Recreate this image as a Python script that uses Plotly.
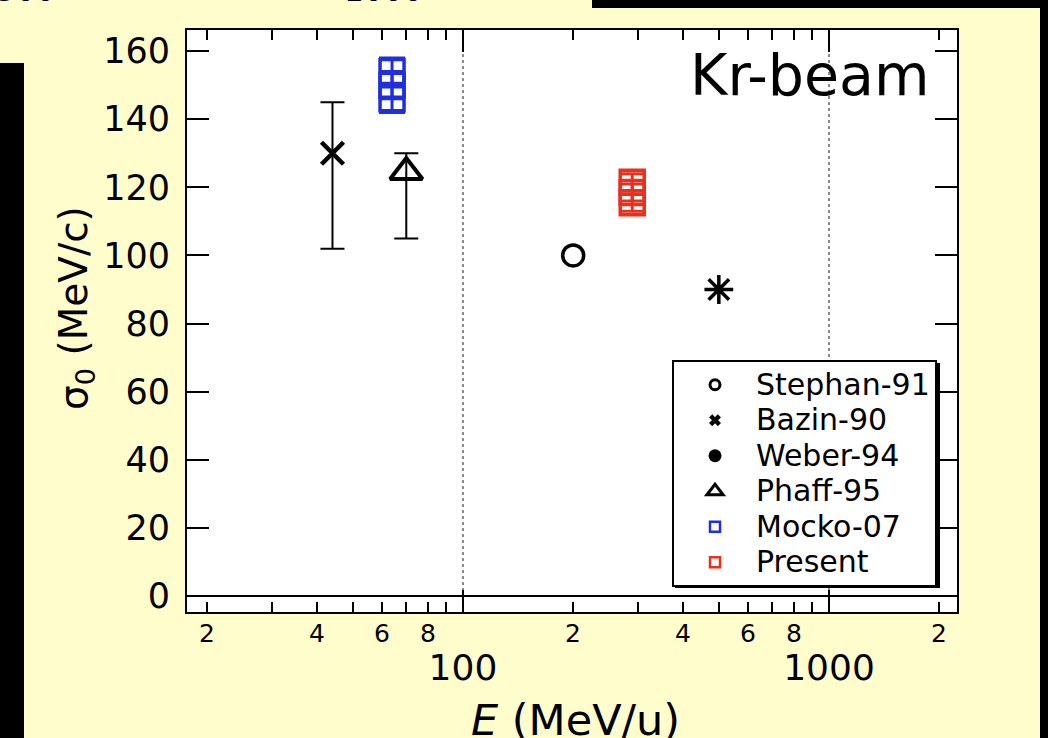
import math
import plotly.graph_objects as go

# ---------------- data ----------------
stephan_E = [200]
stephan_sigma = [100]

bazin_E = [44]
bazin_sigma = [130]
bazin_err_plus = [15]
bazin_err_minus = [28]

weber_E = [500]
weber_sigma = [90]

phaff_E = [70]
phaff_sigma = [124.5]
phaff_err_plus = [5.5]
phaff_err_minus = [19.5]

mocko_E = [64, 64, 64]
mocko_sigma = [154, 150, 146]
mocko_err = [4, 4, 4]

present_E = [290, 290, 290]
present_sigma = [121.5, 118.5, 115.5]
present_err = [2.5, 2.5, 2.5]

legend_names = ["Stephan-91", "Bazin-90", "Weber-94", "Phaff-95", "Mocko-07", "Present"]

x_major_ticks = [100, 1000]
x_major_labels = ["100", "1000"]
x_minor_ticks = [20, 30, 40, 50, 60, 70, 80, 90, 200, 300, 400, 500, 600, 700, 800, 900, 2000]
x_small_label_vals = [20, 40, 60, 80, 200, 400, 600, 800, 2000]
x_small_labels = ["2", "4", "6", "8", "2", "4", "6", "8", "2"]
y_ticks = [0, 20, 40, 60, 80, 100, 120, 140, 160]

x_range_E = [17.62, 2237]
y_range = [-4.7, 166.2]

# ---------------- layout helpers (pixel -> paper) ----------------
W, H = 1048, 738
L, R, T, B = 187, 957, 30, 612


def px(x):
    return (x - L) / (R - L)


def py(y):
    return (B - y) / (B - T)


FONT = "DejaVu Sans"
BLUE = "#1f2fe0"
RED = "#e8301c"

fig = go.Figure()

# data traces
fig.add_trace(go.Scatter(
    x=bazin_E, y=bazin_sigma, mode="markers", showlegend=False,
    marker=dict(symbol="x-thin-open", size=22, line=dict(width=4.5, color="black"), color="black"),
    error_y=dict(type="data", symmetric=False, array=bazin_err_plus, arrayminus=bazin_err_minus,
                 color="black", thickness=2, width=12)))
fig.add_trace(go.Scatter(
    x=phaff_E, y=phaff_sigma, mode="markers", showlegend=False,
    marker=dict(symbol="triangle-up-open", size=28, line=dict(width=4, color="black"), color="black"),
    error_y=dict(type="data", symmetric=False, array=phaff_err_plus, arrayminus=phaff_err_minus,
                 color="black", thickness=2, width=12)))
fig.add_trace(go.Scatter(
    x=mocko_E, y=mocko_sigma, mode="markers", showlegend=False,
    marker=dict(symbol="square-open", size=24, line=dict(width=3.5, color=BLUE), color=BLUE),
    error_y=dict(type="data", array=mocko_err, color=BLUE, thickness=3, width=13)))
fig.add_trace(go.Scatter(
    x=present_E, y=present_sigma, mode="markers", showlegend=False,
    marker=dict(symbol="square-open", size=24, line=dict(width=3.5, color=RED), color=RED),
    error_y=dict(type="data", array=present_err, color=RED, thickness=3, width=13)))
fig.add_trace(go.Scatter(
    x=stephan_E, y=stephan_sigma, mode="markers", showlegend=False,
    marker=dict(symbol="circle-open", size=21, line=dict(width=3.5, color="black"), color="black")))
fig.add_trace(go.Scatter(
    x=weber_E, y=weber_sigma, mode="markers", showlegend=False,
    marker=dict(symbol="asterisk-open", size=24, line=dict(width=3.5, color="black"), color="black")))

# legend-only traces
legend_markers = [
    dict(symbol="circle-open", size=10, line=dict(width=3, color="black"), color="black"),
    dict(symbol="x", size=10, line=dict(width=0.5, color="black"), color="black"),
    dict(symbol="circle", size=13, color="black"),
    dict(symbol="triangle-up-open", size=14, line=dict(width=3, color="black"), color="black"),
    dict(symbol="square-open", size=10, line=dict(width=2.5, color=BLUE), color=BLUE),
    dict(symbol="square-open", size=10, line=dict(width=2.5, color=RED), color=RED),
]
for name, mk in zip(legend_names, legend_markers):
    fig.add_trace(go.Scatter(
        x=[None], y=[None], mode="markers", marker=mk,
        name='<span style="font-size:30px">' + name + '</span>', showlegend=True))

# annotations
annotations = []
for v, t in zip(x_small_label_vals, x_small_labels):
    annotations.append(dict(x=math.log10(v), xref="x", y=py(633), yref="paper",
                            text=t, showarrow=False, xanchor="center", yanchor="middle",
                            font=dict(family=FONT, size=25, color="black")))
annotations.append(dict(x=px(931), y=py(75), xref="paper", yref="paper", text="Kr-beam",
                        showarrow=False, xanchor="right", yanchor="middle",
                        font=dict(family=FONT, size=57, color="black")))
annotations.append(dict(x=px(575), y=py(720), xref="paper", yref="paper",
                        text="<i>E</i> (MeV/u)", showarrow=False, xanchor="center", yanchor="middle",
                        font=dict(family=FONT, size=43, color="black")))
annotations.append(dict(x=px(76), y=py(308), xref="paper", yref="paper",
                        text="σ<sub>0</sub> (MeV/c)", showarrow=False, textangle=-90,
                        xanchor="center", yanchor="middle",
                        font=dict(family=FONT, size=39, color="black")))
# cut-off labels of the slide's neighbouring panel
annotations.append(dict(x=px(425), y=py(-10), xref="paper", yref="paper", text="1000",
                        showarrow=False, xanchor="right", yanchor="middle",
                        font=dict(family=FONT, size=31, color="black")))
annotations.append(dict(x=px(57), y=py(-10), xref="paper", yref="paper", text="500",
                        showarrow=False, xanchor="right", yanchor="middle",
                        font=dict(family=FONT, size=31, color="black")))

# background shapes (black slide areas, legend shadow)
shapes = [
    dict(type="rect", xref="paper", yref="paper", x0=px(592), x1=px(1050), y0=py(-2), y1=py(8),
         fillcolor="black", line=dict(width=0), layer="below"),
    dict(type="rect", xref="paper", yref="paper", x0=px(-2), x1=px(24), y0=py(63), y1=py(740),
         fillcolor="black", line=dict(width=0), layer="below"),
    dict(type="rect", xref="paper", yref="paper", x0=px(1040), x1=px(1050), y0=py(-2), y1=py(740),
         fillcolor="black", line=dict(width=0), layer="below"),
    dict(type="rect", xref="paper", yref="paper", x0=px(675), x1=px(940), y0=py(363), y1=py(588),
         fillcolor="black", line=dict(width=0), layer="above"),
]

fig.update_layout(
    width=W, height=H, autosize=False,
    margin=dict(l=L, r=W - R, t=T, b=H - B, pad=0),
    paper_bgcolor="#FFFDCC", plot_bgcolor="white",
    font=dict(family=FONT, color="black"),
    annotations=annotations, shapes=shapes,
    legend=dict(x=px(672), y=py(360), xanchor="left", yanchor="top",
                bgcolor="white", bordercolor="black", borderwidth=2,
                font=dict(family=FONT, size=25, color="black"),
                itemwidth=72, tracegroupgap=0),
)

fig.update_xaxes(
    type="log", range=[math.log10(x_range_E[0]), math.log10(x_range_E[1])],
    showline=True, linewidth=2, linecolor="black", mirror="allticks",
    tickmode="array", tickvals=x_major_ticks, ticktext=x_major_labels,
    ticks="inside", ticklen=22, tickwidth=2, tickcolor="black",
    tickfont=dict(family=FONT, size=36, color="black"), ticklabelstandoff=23,
    showgrid=True, gridcolor="#8a8a8a", griddash="dot", gridwidth=1.5,
    minor=dict(tickmode="array", tickvals=x_minor_ticks, ticks="inside", ticklen=10,
               tickwidth=2, tickcolor="black", showgrid=False),
    zeroline=False,
)
fig.update_yaxes(
    range=y_range, showline=True, linewidth=2, linecolor="black", mirror="allticks",
    tickmode="array", tickvals=y_ticks,
    ticks="inside", ticklen=22, tickwidth=2, tickcolor="black",
    tickfont=dict(family=FONT, size=35, color="black"), ticklabelstandoff=8,
    showgrid=False, zeroline=True, zerolinecolor="black", zerolinewidth=2,
)

fig.write_html("out.html")
